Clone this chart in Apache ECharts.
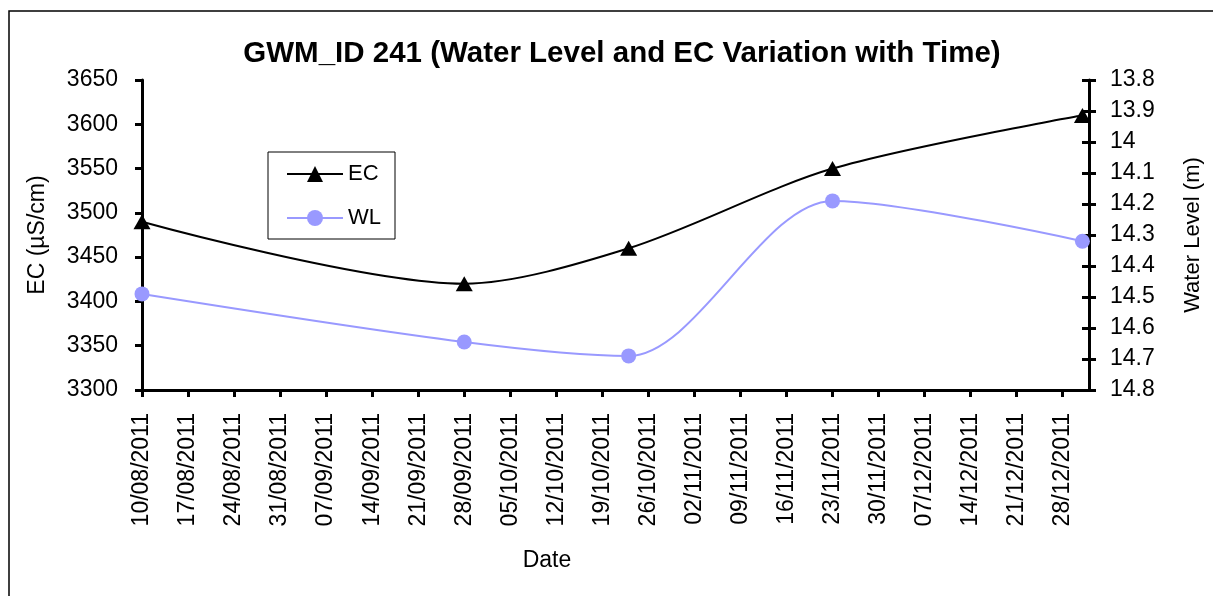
<!DOCTYPE html>
<html>
<head>
<meta charset="utf-8">
<script src="https://cdn.jsdelivr.net/npm/echarts@6/dist/echarts.min.js"></script>
<style>
  html, body { margin: 0; padding: 0; background: #fff; }
  #chart { width: 1213px; height: 596px; }
</style>
</head>
<body>
<div id="chart"></div>
<script>
// ---- data ----
const startDate = '2011-08-10';
const endDate = '2012-01-01';
const sampleDates = ['2011-08-10', '2011-09-28', '2011-10-23', '2011-11-23', '2011-12-31'];
const ecValues = [3490, 3420, 3460, 3550, 3610];
const wlValues = [14.49, 14.645, 14.69, 14.19, 14.32];
const ecTicks = { min: 3300, max: 3650, step: 50 };
const wlTicks = { min: 13.8, max: 14.8, step: 0.1 };

const DAY = 86400000;
const t0 = Date.parse(startDate + 'T00:00:00Z');
const dayOf = s => Math.round((Date.parse(s + 'T00:00:00Z') - t0) / DAY);
const pad = n => (n < 10 ? '0' : '') + n;
const fmtDay = d => {
  const dt = new Date(t0 + d * DAY);
  return pad(dt.getUTCDate()) + '/' + pad(dt.getUTCMonth() + 1) + '/' + dt.getUTCFullYear();
};

const ecData = sampleDates.map((s, i) => [dayOf(s), ecValues[i]]);
const wlData = sampleDates.map((s, i) => [dayOf(s), wlValues[i]]);

const FONT = 'Liberation Sans, Arial, sans-serif';
const chart = echarts.init(document.getElementById('chart'), null, { renderer: 'canvas' });

chart.setOption({
  backgroundColor: '#fff',
  animation: false,
  graphic: [{
    type: 'rect', z: -10,
    shape: { x: 9, y: 11, width: 1400, height: 800 },
    style: { fill: 'none', stroke: '#000', lineWidth: 1.5 }
  }],
  title: {
    text: 'GWM_ID 241 (Water Level and EC Variation with Time)',
    left: 617, top: 34, textAlign: 'center',
    textStyle: { fontFamily: FONT, fontWeight: 'bold', fontSize: 29.5, color: '#000' }
  },
  legend: {
    orient: 'vertical', left: 268, top: 152,
    backgroundColor: '#fff',
    borderColor: '#000', borderWidth: 1,
    padding: [11, 14, 10, 18], itemGap: 22,
    itemWidth: 56, itemHeight: 20,
    textStyle: { fontFamily: FONT, fontSize: 22, color: '#000' },
    data: ['EC', 'WL']
  },
  grid: { left: 142, right: 124, top: 80, bottom: 206 },
  xAxis: {
    type: 'value', min: 0, max: dayOf(endDate), interval: 7,
    name: 'Date', nameLocation: 'middle', nameGap: 159,
    nameTextStyle: { fontFamily: FONT, fontSize: 23, color: '#000', padding: [0, 137, 0, 0] },
    axisLine: { lineStyle: { color: '#000', width: 3 } },
    axisTick: { show: true, length: 7, lineStyle: { color: '#000', width: 3 } },
    splitLine: { show: false },
    axisLabel: {
      rotate: 90, margin: 23, showMaxLabel: false,
      fontFamily: FONT, fontSize: 23, color: '#000',
      formatter: v => (v % 7 === 0 ? fmtDay(v) : '')
    }
  },
  yAxis: [{
    type: 'value', position: 'left',
    min: ecTicks.min, max: ecTicks.max, interval: ecTicks.step,
    name: 'EC (µS/cm)', nameLocation: 'middle', nameGap: 93,
    nameTextStyle: { fontFamily: FONT, fontSize: 23, color: '#000' },
    axisLine: { show: true, lineStyle: { color: '#000', width: 3 } },
    axisTick: { show: true, length: 7, lineStyle: { color: '#000', width: 3 } },
    splitLine: { show: false },
    axisLabel: { margin: 24, fontFamily: FONT, fontSize: 23, color: '#000', formatter: v => String(v) }
  }, {
    type: 'value', position: 'right', inverse: true,
    min: wlTicks.min, max: wlTicks.max, interval: wlTicks.step,
    name: 'Water Level (m)', nameLocation: 'middle', nameGap: 93,
    nameTextStyle: { fontFamily: FONT, fontSize: 22, color: '#000' },
    axisLine: { show: true, lineStyle: { color: '#000', width: 3 } },
    axisTick: { show: true, length: 7, lineStyle: { color: '#000', width: 3 } },
    splitLine: { show: false },
    axisLabel: { margin: 21, fontFamily: FONT, fontSize: 23, color: '#000' }
  }, {
    type: 'value', position: 'right', inverse: true,
    min: wlTicks.min, max: wlTicks.max, interval: wlTicks.step,
    axisLine: { show: false },
    axisTick: { show: true, inside: true, length: 7, lineStyle: { color: '#000', width: 3 } },
    splitLine: { show: false },
    axisLabel: { show: false }
  }],
  series: [{
    name: 'EC', type: 'line', yAxisIndex: 0, data: ecData,
    smooth: 0.3, symbol: 'triangle', symbolSize: [17, 15],
    lineStyle: { color: '#000', width: 2 },
    itemStyle: { color: '#000' }, z: 3
  }, {
    name: 'WL', type: 'line', yAxisIndex: 1, data: wlData,
    smooth: 0.3, symbol: 'circle', symbolSize: 15,
    lineStyle: { color: '#9999FF', width: 2 },
    itemStyle: { color: '#9999FF' }, z: 2
  }]
});
</script>
</body>
</html>
